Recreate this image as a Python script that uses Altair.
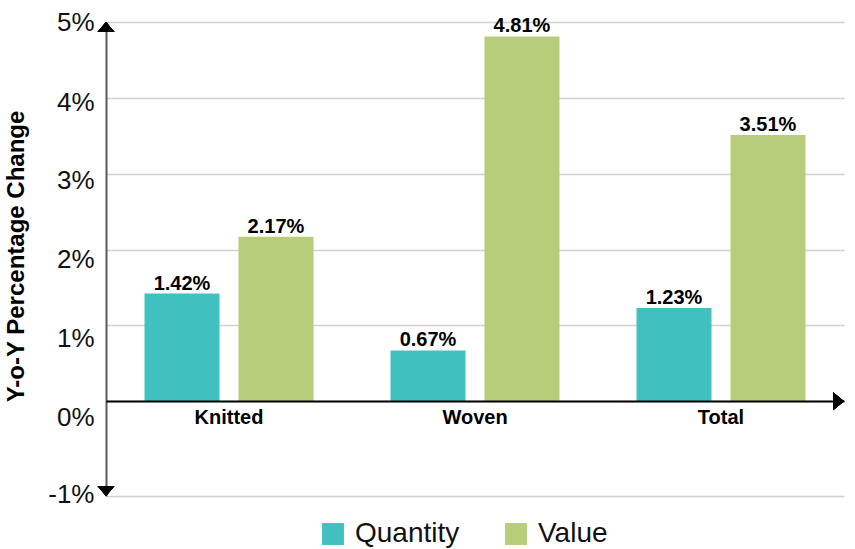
import altair as alt
import pandas as pd

# ---- data ----
categories = ["Knitted", "Woven", "Total"]
series_names = ["Quantity", "Value"]
quantity = [1.42, 0.67, 1.23]
value = [2.17, 4.81, 3.51]
y_ticks = [-1.25, 0, 1, 2, 3, 4, 5]
colors = ["#40C0BE", "#B8CD7A"]

rows = []
for c, q, v in zip(categories, quantity, value):
    rows.append({"Category": c, "Series": series_names[0], "Pct": q})
    rows.append({"Category": c, "Series": series_names[1], "Pct": v})
df = pd.DataFrame(rows)

W, H = 738, 474
FONT = "Liberation Sans"
TITLE = "Y-o-Y Percentage Change"

yscale = alt.Scale(domain=[-1.25, 5], nice=False, zero=False)
xscale = alt.Scale(domain=categories, paddingInner=0, paddingOuter=0)
offscale = alt.Scale(domain=series_names, paddingInner=0.202, paddingOuter=0.41)

label_offset = {
    "condition": [
        {"test": "datum.value < 0", "value": -2},
        {"test": "datum.value == 0", "value": 16},
        {"test": "datum.value == 1", "value": 13},
        {"test": "datum.value == 2", "value": 10},
        {"test": "datum.value == 3", "value": 7},
        {"test": "datum.value == 4", "value": 5},
    ],
    "value": 0,
}

y_axis = alt.Axis(
    values=y_ticks,
    labelExpr="datum.value < 0 ? '-1%' : datum.value + '%'",
    grid=True, gridColor="#D0D0D0", gridWidth=1.5,
    domainColor="#595959", domainWidth=2, ticks=False,
    labelFont=FONT, labelFontSize=26, labelColor="#111111", labelPadding=12,
    labelOffset=label_offset,
    title=TITLE, titleFont=FONT, titleFontSize=24, titleFontWeight="bold",
    titleColor="#000000", titleAngle=270, titleX=-83, titleY=234,
    titleAlign="center", titleBaseline="alphabetic",
)

x_axis = alt.Axis(
    title=None, orient="bottom", offset=-95, domainColor="#000000", domainWidth=2,
    ticks=False, labelFont=FONT, labelFontSize=20, labelFontWeight="bold",
    labelColor="#000000", labelPadding=6, labelAngle=0, grid=False, zindex=1,
)

base = alt.Chart(df).encode(
    x=alt.X("Category:N", scale=xscale, axis=x_axis, sort=categories),
    xOffset=alt.XOffset("Series:N", scale=offscale, sort=series_names),
    y=alt.Y("Pct:Q", scale=yscale, axis=y_axis),
)

bars = base.mark_bar().encode(
    color=alt.Color(
        "Series:N",
        scale=alt.Scale(domain=series_names, range=colors),
        legend=alt.Legend(
            orient="none", legendX=213, legendY=498, direction="horizontal",
            title=None, symbolType="square", symbolSize=480, symbolStrokeWidth=0,
            symbolOpacity=1, labelFont=FONT, labelFontSize=28, labelColor="#111111",
            columnPadding=42, labelOffset=8,
        ),
    )
)

labels = base.transform_calculate(
    Label="format(datum.Pct, '.2f') + '%'"
).mark_text(
    font=FONT, fontSize=20, fontWeight="bold", baseline="alphabetic", dy=-4, color="#000000"
).encode(text="Label:N")

up_arrow = alt.Chart(df).mark_point(
    shape="M0,0L1,1.18L-1,1.18Z", size=289, filled=True, color="#000000", opacity=1
).encode(x=alt.value(0), y=alt.YDatum(5, scale=yscale, title=TITLE))

down_arrow = alt.Chart(df).mark_point(
    shape="M0,0L1,-1.18L-1,-1.18Z", size=289, filled=True, color="#000000", opacity=1
).encode(x=alt.value(0), y=alt.YDatum(-1.25, scale=yscale, title=TITLE))

right_arrow = alt.Chart(df).mark_point(
    shape="M0,0L-1.22,-1L-1.22,1Z", size=324, filled=True, color="#000000", opacity=1
).encode(x=alt.value(W), y=alt.YDatum(0, scale=yscale, title=TITLE))

chart = alt.layer(bars, labels, up_arrow, down_arrow, right_arrow).properties(
    width=W, height=H,
    autosize=alt.AutoSizeParams(type="none"),
    padding={"left": 106, "top": 22, "right": 11, "bottom": 53},
    background="white",
).configure_view(stroke=None)

chart.save("out.html", embed_options={"renderer": "svg", "actions": False})
